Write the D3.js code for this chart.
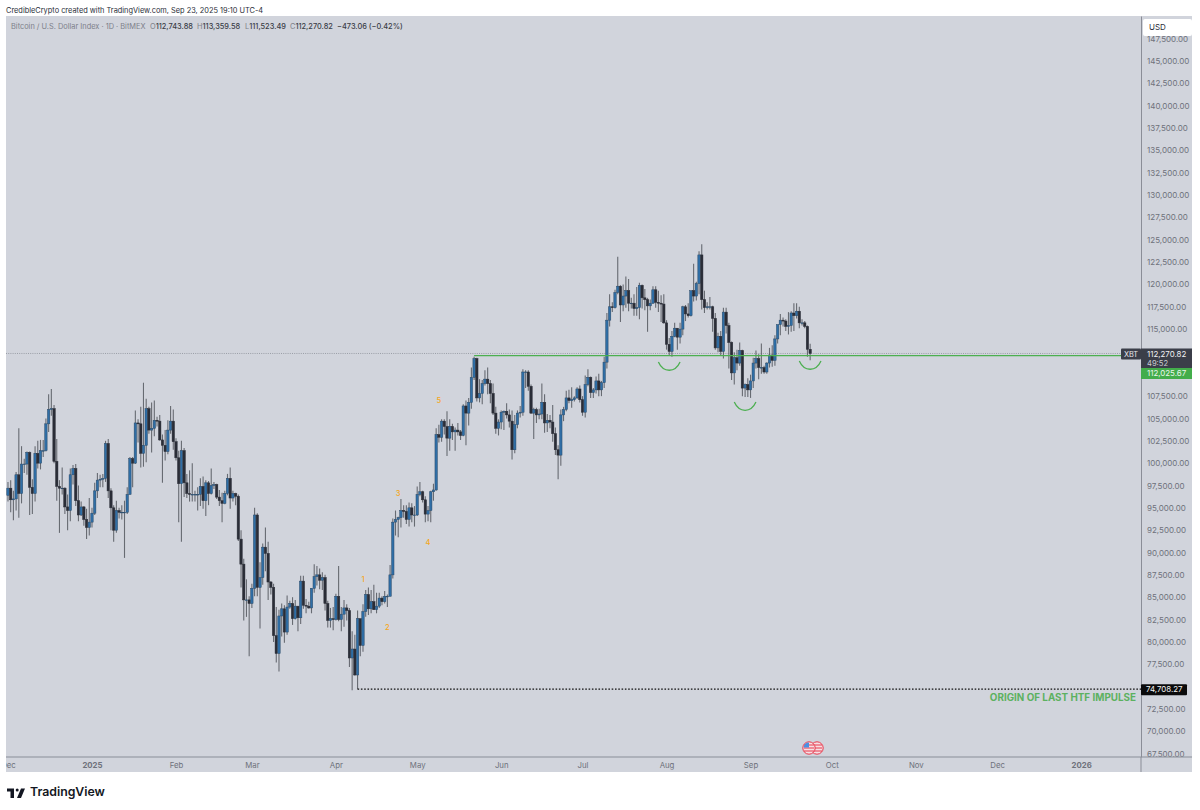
<!DOCTYPE html>
<html>
<head>
<meta charset="utf-8">
<script src="https://cdn.jsdelivr.net/npm/d3@7"></script>
<style>
  body { margin: 0; background: #fff; }
  svg { display: block; font-family: Inter, "Open Sans", sans-serif; }
</style>
</head>
<body>
<div id="chart"></div>
<script>
// Daily candles, first one is 2024-12-01
const firstDay = "2024-12-01";
const opens = [
  96400,97200,95900,96000,98700,96600,99900,99900,101200,97300,96600,101100,100000,101400,101400,104400,106000,106100,100200,97400,97200,97200,95100,94700,98700,99400,95800,94200,95100,93700,92800,
  93400,94400,96900,98100,98200,98300,102200,96900,95000,92500,94700,94500,94500,94500,96500,100500,100000,104500,104400,101100,102000,106100,103700,103900,104800,104700,102600,102000,101300,103700,104700,
  102400,100600,97700,101400,97800,96600,96500,96500,96500,96500,97400,95800,97800,96600,97500,97600,96200,95800,95500,96600,98300,96100,96600,96300,91500,88700,84700,84700,
  84300,86000,94200,86100,87200,90600,89900,86700,86100,80700,78700,82900,83700,81100,83900,84300,82600,84000,82700,86800,84100,84000,83800,86000,87300,87500,86900,87200,84300,82400,82600,
  82500,85100,82500,83100,83800,83500,78200,79200,76300,82600,79600,83400,85300,83700,84500,83600,84000,84900,84500,85100,85100,87500,93400,93700,93900,94700,94600,93700,95000,94200,
  94200,96500,96800,95900,94300,94700,96800,97000,103200,102900,104700,104100,102800,104100,103500,103700,103500,103100,106400,105600,106800,109600,111700,107300,107800,108900,109400,108900,107800,105600,103900,
  104600,105700,105800,105400,104700,101500,104300,105600,105700,110200,110200,108600,105600,106000,105400,105500,106800,104500,104800,104600,103300,101500,100900,105400,106000,107300,107000,107100,107300,108300,
  107100,105700,108800,109600,107900,108200,109200,108200,109000,111300,116000,117500,117400,119100,119800,117700,118700,119300,117900,117900,117300,117400,119900,118500,118300,117600,117900,119400,118000,117900,117800,
  115700,113300,112500,114200,115100,114100,115000,117500,116700,116500,119300,118700,120100,123300,118300,117400,117500,117500,116200,112900,114200,112500,116900,115400,113500,110100,111800,111200,112600,108400,108800,
  108200,109200,111200,111700,110700,110700,110200,111200,112100,111500,113900,115500,116000,115900,115300,115400,116800,116500,117000,115700,115700,115300,112743.88
];
const highs = [
  97900,98100,96900,99000,103900,101900,100500,101300,101300,98200,101900,102500,102600,102600,105000,107700,108300,106500,102700,98100,99500,97300,96500,99400,99800,99900,97500,95700,95200,94900,96100,
  95000,97800,98900,98700,98800,102500,102700,97200,95300,95800,95000,95300,95800,97300,100700,100700,105900,104900,106300,109000,107200,106300,106800,107000,105200,105400,103200,103700,104800,106400,106000,
  102800,101400,102500,101700,98800,99200,100000,96900,97300,98300,98500,98100,98000,99400,97900,97700,97000,96700,96900,98800,99500,96900,96700,96500,92500,89300,87000,85100,
  86500,95000,94400,88900,91000,92800,91200,86800,86500,83900,83600,84300,84100,85200,84600,85000,84700,84000,87400,87400,84800,84500,86000,88700,88500,88200,87800,87500,84600,83800,83900,
  85400,88500,83900,84700,84200,83800,81200,80800,83500,82600,84200,85800,86100,85800,86400,85500,85500,85100,85700,85300,88600,93800,94700,94000,96000,95300,95300,95600,95500,95200,
  97400,97900,96900,96300,95200,96900,97700,103900,104300,104900,104900,105800,104900,104400,104000,104500,103700,106600,107000,107300,110700,111900,111800,109400,109300,110400,110700,109300,108900,106300,104900,
  105900,105900,106700,106000,105900,105400,105900,106400,110500,110400,110400,108800,106200,106200,106100,108900,107700,105500,105400,106500,104000,102000,106000,106300,108100,108200,108500,107500,108500,108700,
  107500,109800,110500,109700,108400,109700,110000,109200,111900,116800,118900,118000,119400,123100,119900,120000,120900,120600,118500,118900,119700,120200,120000,119500,118500,118300,119800,119800,119300,118800,118900,
  116000,114000,114800,115700,115100,115700,117600,117700,117900,119300,122300,120300,123700,124500,119300,118000,118600,117600,116800,114600,114800,117400,117400,115700,113600,112400,112700,113500,112700,108900,109500,
  109900,111800,112600,112200,113400,110900,111300,112900,113200,114300,115500,116700,116300,116100,116900,117000,117900,117900,117500,116100,115900,115400,113359.58
];
const lows = [
  95700,94500,93600,94700,93900,95500,98900,98700,94200,94300,95700,99400,99300,100700,101300,103500,105300,100000,95800,92200,96500,94300,92500,93500,97600,95200,93500,94100,93000,91500,91900,
  92800,94200,96100,97300,97300,97900,96100,92500,91200,92200,93800,93700,89400,94300,96500,97300,99900,102300,99500,99600,100100,103300,101200,103000,104100,102500,97800,100300,101000,103300,101500,
  100300,93400,91200,96200,96100,95700,95700,95700,94700,95200,94900,94100,95300,96500,97100,96000,95200,93400,95400,96400,94900,95700,95300,91300,86100,82400,82800,78400,
  83800,85100,85100,81500,86400,87900,84700,85300,80000,77700,76700,80600,79900,80800,83700,81900,82500,81200,82000,83700,83200,83700,83200,85500,86300,85900,85800,83500,81600,81600,81300,
  82400,82300,81200,81700,82400,77200,74600,76200,74700,78400,78900,82800,83000,83200,83600,83200,83800,84100,84300,83900,85100,87100,91900,91700,92800,93900,93200,92900,93400,92900,
  94100,96300,95600,93400,93500,93400,95800,96900,102300,102400,103200,100800,101400,102600,101400,103100,102600,103000,102000,104200,106100,109300,106900,106800,106600,108700,107700,106700,105400,103300,103100,
  103800,103700,105000,104000,100400,101100,103900,105100,105300,108400,108100,105500,102700,104500,104900,104900,103400,103500,103900,102400,100900,98200,99700,104700,105800,106700,106200,106900,107200,106800,
  105300,105100,108600,107300,107300,107800,107500,107500,108400,110600,115300,116900,117300,118900,115800,117000,117400,117000,117300,116500,116500,116100,117300,117100,114700,117100,117800,117400,116900,115800,115600,
  112700,112000,111900,114100,112700,113400,114300,115900,116300,116400,118100,118200,118900,117200,116800,117200,117200,114700,112700,112400,112000,111700,114500,110600,109300,108800,110400,110900,107500,107400,107400,
  107300,108400,110600,109400,110000,110000,110000,110700,110800,110900,113400,114300,115300,114800,114400,114700,114800,116200,115100,115400,115100,111900,111523.49
];
const closes = [
  97200,95900,96000,98700,96600,99900,99900,101200,97300,96600,101100,100000,101400,101400,104400,106000,106100,100200,97400,97200,97200,95100,94700,98700,99400,95800,94200,95100,93700,92800,93400,
  94400,96900,98100,98200,98300,102200,96900,95000,92500,94700,94500,94500,94500,96500,100500,100000,104500,104400,101100,102000,106100,103700,103900,104800,104700,102600,102000,101300,103700,104700,102400,
  100600,97700,101400,97800,96600,96500,96500,96500,96500,97400,95800,97800,96600,97500,97600,96200,95800,95500,96600,98300,96100,96600,96300,91500,88700,84700,84700,84300,
  86000,94200,86100,87200,90600,89900,86700,86100,80700,78700,82900,83700,81100,83900,84300,82600,84000,82700,86800,84100,84000,83800,86000,87300,87500,86900,87200,84300,82400,82600,82500,
  85100,82500,83100,83800,83500,78200,79200,76300,82600,79600,83400,85300,83700,84500,83600,84000,84900,84500,85100,85100,87500,93400,93700,93900,94700,94600,93700,95000,94200,94200,
  96500,96800,95900,94300,94700,96800,97000,103200,102900,104700,104100,102800,104100,103500,103700,103500,103100,106400,105600,106800,109600,111700,107300,107800,108900,109400,108900,107800,105600,103900,104600,
  105700,105800,105400,104700,101500,104300,105600,105700,110200,110200,108600,105600,106000,105400,105500,106800,104500,104800,104600,103300,101500,100900,105400,106000,107300,107000,107100,107300,108300,107100,
  105700,108800,109600,107900,108200,109200,108200,109000,111300,116000,117500,117400,119100,119800,117700,118700,119300,117900,117900,117300,117400,119900,118500,118300,117600,117900,119400,118000,117900,117800,115700,
  113300,112500,114200,115100,114100,115000,117500,116700,116500,119300,118700,120100,123300,118300,117400,117500,117500,116200,112900,114200,112500,116900,115400,113500,110100,111800,111200,112600,108400,108800,108200,
  109200,111200,111700,110700,110700,110200,111200,112100,111500,113900,115500,116000,115900,115300,115400,116800,116500,117000,115700,115700,115300,112743.88,112270.82
];

// 112,500 / 110,000 / 75,000 sit behind the price tags
const priceTicks = [147500,145000,142500,140000,137500,135000,132500,130000,127500,125000,122500,120000,117500,115000,107500,105000,102500,100000,97500,95000,92500,90000,87500,85000,82500,80000,77500,72500,70000,67500];
const timeTicks = ["2024-12-01","2025-01-01","2025-02-01","2025-03-01","2025-04-01","2025-05-01","2025-06-01","2025-07-01","2025-08-01","2025-09-01","2025-10-01","2025-11-01","2025-12-01","2026-01-01"];
const timeLabels = ["Dec","2025","Feb","Mar","Apr","May","Jun","Jul","Aug","Sep","Oct","Nov","Dec","2026"];

const lastPrice = 112270.82;
const supportPrice = 112025.67;
const supportStart = "2025-05-22";
const originPrice = 74708.27;
const originStart = "2025-04-09";

// wave count and the three "bottom" arcs: date + price
const waveLabels = ["1","2","3","4","5"];
const waveDates = ["2025-04-11","2025-04-20","2025-04-24","2025-05-05","2025-05-09"];
const wavePrices = [87040,81670,96660,91180,107070];
const arcDates = [["2025-07-29","2025-08-06"],["2025-08-26","2025-09-03"],["2025-09-19","2025-09-27"]];
const arcPrices = [111320,106840,111430];

const W = 1200, H = 810;
const plot = { left: 6, right: 1141, top: 16, bottom: 757 };
const panelRight = 1192, panelBottom = 772;

const day = s => new Date(s + "T00:00:00Z");

const svg = d3.select("#chart").append("svg")
    .attr("width", W)
    .attr("height", H)
    .attr("viewBox", `0 0 ${W} ${H}`);

// Scales
const x = d3.scaleUtc()
    .domain([new Date("2024-11-30T06:30:00Z"), new Date("2026-01-23T02:00:00Z")])
    .range([plot.left, plot.right]);
const y = d3.scaleLinear()
    .domain([150035, 67120])
    .range([plot.top, plot.bottom]);

const candles = closes.map((c, i) => ({
    date: d3.utcDay.offset(day(firstDay), i),
    open: opens[i], high: highs[i], low: lows[i], close: c
}));

// Panel
svg.append("rect")
    .attr("x", plot.left)
    .attr("y", plot.top)
    .attr("width", panelRight - plot.left)
    .attr("height", panelBottom - plot.top)
    .attr("fill", "#d1d4dc");

const defs = svg.append("defs");
defs.append("clipPath").attr("id", "clip-plot").append("rect")
    .attr("x", plot.left).attr("y", plot.top)
    .attr("width", plot.right - plot.left).attr("height", plot.bottom - plot.top);
defs.append("clipPath").attr("id", "clip-time").append("rect")
    .attr("x", plot.left).attr("y", plot.bottom)
    .attr("width", plot.right - plot.left).attr("height", panelBottom - plot.bottom);
defs.append("clipPath").attr("id", "clip-price").append("rect")
    .attr("x", plot.right).attr("y", plot.top)
    .attr("width", panelRight - plot.right).attr("height", plot.bottom - plot.top);

// Header text
svg.append("text")
    .attr("x", 6).attr("y", 12.5)
    .style("font-size", "7.4px")
    .attr("fill", "#2a2e39")
    .text("CredibleCrypto created with TradingView.com, Sep 23, 2025 19:10 UTC-4");

svg.append("text")
    .attr("x", 11).attr("y", 29)
    .style("font-size", "7.4px")
    .attr("fill", "#7d808a")
    .text("Bitcoin / U.S. Dollar Index · 1D · BitMEX");

const ohlcText = [["O", "112,743.88", 150], ["H", "113,359.58", 197], ["L", "111,523.49", 245], ["C", "112,270.82", 290]];
ohlcText.forEach(([k, v, px]) => {
    const t = svg.append("text").attr("x", px).attr("y", 29).style("font-size", "7.4px");
    t.append("tspan").attr("fill", "#7d808a").text(k);
    t.append("tspan").attr("fill", "#3a3d47").style("font-weight", 500).text(v);
});
svg.append("text")
    .attr("x", 337).attr("y", 29)
    .style("font-size", "7.4px").style("font-weight", 500)
    .attr("fill", "#3a3d47")
    .text("−473.06 (−0.42%)");

// Last price dotted line
const plotG = svg.append("g").attr("clip-path", "url(#clip-plot)");
plotG.append("line")
    .attr("x1", plot.left).attr("x2", plot.right)
    .attr("y1", y(lastPrice)).attr("y2", y(lastPrice))
    .attr("stroke", "#8d9099")
    .attr("stroke-width", 0.8)
    .attr("stroke-dasharray", "1 1.2");

// Candles
const candleG = plotG.selectAll("g.candle")
    .data(candles)
    .join("g")
    .attr("class", "candle");

candleG.append("line")
    .attr("x1", d => x(d.date)).attr("x2", d => x(d.date))
    .attr("y1", d => y(d.high)).attr("y2", d => y(d.low))
    .attr("stroke", "#55585f")
    .attr("stroke-opacity", 0.85)
    .attr("stroke-width", 1.1);

candleG.append("rect")
    .attr("x", d => x(d.date) - 1.2)
    .attr("width", 2.4)
    .attr("y", d => y(Math.max(d.open, d.close)))
    .attr("height", d => Math.max(0.6, Math.abs(y(d.open) - y(d.close))))
    .attr("fill", d => d.close >= d.open ? "#2f6ea6" : "#2a2d37")
    .attr("stroke", d => d.close >= d.open ? "#2b4a68" : "#2a2d37")
    .attr("stroke-width", 0.5);

// Support line
plotG.append("line")
    .attr("x1", x(day(supportStart))).attr("x2", plot.right)
    .attr("y1", y(supportPrice)).attr("y2", y(supportPrice))
    .attr("stroke", "#4caf50")
    .attr("stroke-width", 1.2);

// Origin dotted line
plotG.append("line")
    .attr("x1", x(day(originStart))).attr("x2", plot.right)
    .attr("y1", y(originPrice)).attr("y2", y(originPrice))
    .attr("stroke", "#111")
    .attr("stroke-width", 1.2)
    .attr("stroke-dasharray", "1.6 1.7");

// Arcs under the lows
plotG.selectAll("path.arc")
    .data(arcDates)
    .join("path")
    .attr("class", "arc")
    .attr("fill", "none")
    .attr("stroke", "#4caf50")
    .attr("stroke-width", 1.3)
    .attr("d", (d, i) => {
        const x0 = x(day(d[0])), x1 = x(day(d[1])), yy = y(arcPrices[i]);
        return `M${x0},${yy} C${x0 + 5},${yy + 11} ${x1 - 5},${yy + 11} ${x1},${yy}`;
    });

// Wave count
plotG.selectAll("text.wave")
    .data(waveLabels)
    .join("text")
    .attr("class", "wave")
    .attr("x", (d, i) => x(day(waveDates[i])))
    .attr("y", (d, i) => y(wavePrices[i]))
    .attr("dy", "0.35em")
    .attr("text-anchor", "middle")
    .attr("fill", "#f5a623")
    .style("font-size", "7.5px")
    .style("font-weight", 500)
    .text(d => d);

plotG.append("text")
    .attr("x", plot.right - 5)
    .attr("y", y(originPrice) + 12)
    .attr("text-anchor", "end")
    .attr("fill", "#5cb160")
    .style("font-size", "9.85px")
    .style("font-weight", 700)
    .text("ORIGIN OF LAST HTF IMPULSE");

// Earnings style flags on the time axis
const flagX = [809, 817];
const flagG = svg.selectAll("g.flag")
    .data(flagX.slice().reverse())
    .join("g")
    .attr("class", "flag")
    .attr("transform", d => `translate(${d},748)`);
flagG.append("circle").attr("r", 6.2).attr("fill", "#f6dfe3").attr("stroke", "#e8394d").attr("stroke-width", 1);
flagG.selectAll("line")
    .data([-3, 0, 3])
    .join("line")
    .attr("x1", -5).attr("x2", 5)
    .attr("y1", d => d).attr("y2", d => d)
    .attr("stroke", "#e8394d")
    .attr("stroke-width", 1);
svg.append("path")
    .attr("d", "M803.6,747.5 A5.6,5.6 0 0 1 809,742.6 L809,747.5 Z")
    .attr("fill", "#4a90e2");

// X Axis
const xAxis = svg.append("g")
    .attr("clip-path", "url(#clip-time)");
xAxis.append("g")
    .attr("transform", `translate(0,${plot.bottom})`)
    .call(d3.axisBottom(x)
        .tickValues(timeTicks.map(day))
        .tickSize(0)
        .tickPadding(5)
        .tickFormat((d, i) => timeLabels[i]))
    .call(g => g.select(".domain").attr("stroke", "none"))
    .selectAll("text")
    .attr("fill", "#6e717b")
    .style("font-family", "Inter, sans-serif")
    .style("font-size", "7.8px")
    .style("font-weight", d => d.getUTCMonth() === 0 ? 700 : 400);

// Y Axis
const yAxis = svg.append("g")
    .attr("transform", `translate(${plot.right},0)`)
    .attr("clip-path", "url(#clip-price-local)")
    .call(d3.axisRight(y)
        .tickValues(priceTicks)
        .tickSize(0)
        .tickPadding(6)
        .tickFormat(d3.format(",.2f")))
    .call(g => g.select(".domain").attr("stroke", "#8a8d97").attr("stroke-width", 1));
yAxis.attr("clip-path", null);
yAxis.selectAll("text")
    .attr("fill", "#6e717b")
    .style("font-family", "Inter, sans-serif")
    .style("font-size", "8px");

// Time axis band sits over the last price label, so the 67,500 tick is cut as in TradingView
svg.append("rect")
    .attr("x", plot.right + 0.5).attr("y", plot.bottom)
    .attr("width", panelRight - plot.right - 0.5).attr("height", panelBottom - plot.bottom)
    .attr("fill", "#d1d4dc");
svg.append("line")
    .attr("x1", plot.right).attr("x2", plot.right)
    .attr("y1", plot.bottom).attr("y2", panelBottom)
    .attr("stroke", "#8a8d97");
svg.append("line")
    .attr("x1", plot.left).attr("x2", panelRight)
    .attr("y1", plot.bottom).attr("y2", plot.bottom)
    .attr("stroke", "#8a8d97").attr("stroke-width", 1.2);

// USD button
svg.append("rect")
    .attr("x", 1143).attr("y", 19)
    .attr("width", 49).attr("height", 17)
    .attr("rx", 2)
    .attr("fill", "#fff");
svg.append("text")
    .attr("x", 1149).attr("y", 30)
    .attr("fill", "#2a2e39")
    .style("font-size", "8px")
    .text("USD");

// Price tags
const tagTextSize = "7.9px";
svg.append("rect").attr("x", 1121).attr("y", y(lastPrice) - 5).attr("width", 20).attr("height", 11).attr("rx", 1).attr("fill", "#3b3e49");
svg.append("text").attr("x", 1131).attr("y", y(lastPrice) + 3.2).attr("text-anchor", "middle")
    .attr("fill", "#e6e7ea").style("font-size", "7.4px").text("XBT");
svg.append("rect").attr("x", plot.right).attr("y", y(lastPrice) - 5).attr("width", 51).attr("height", 20).attr("fill", "#3b3e49");
svg.append("text").attr("x", 1147).attr("y", y(lastPrice) + 3.2)
    .attr("fill", "#f0f1f3").style("font-size", tagTextSize).text(d3.format(",.2f")(lastPrice));
svg.append("text").attr("x", 1147).attr("y", y(lastPrice) + 12.2)
    .attr("fill", "#c9cbd2").style("font-size", "7.6px").text("49:52");
svg.append("rect").attr("x", plot.right).attr("y", 368).attr("width", 51).attr("height", 11).attr("fill", "#43ad4b");
svg.append("text").attr("x", 1147).attr("y", 376.4)
    .attr("fill", "#eaf6eb").style("font-size", tagTextSize).text(d3.format(",.2f")(supportPrice));
svg.append("rect").attr("x", plot.right).attr("y", y(originPrice) - 5).attr("width", 46).attr("height", 11).attr("rx", 1).attr("fill", "#0b0b0c");
svg.append("text").attr("x", 1146).attr("y", y(originPrice) + 3.2)
    .attr("fill", "#f5f5f5").style("font-size", tagTextSize).text(d3.format(",.2f")(originPrice));

// TradingView logo
svg.append("path")
    .attr("transform", "translate(7,785.5) scale(0.5)")
    .attr("d", "M14 6H0v6h7v13h7zM28 25h-8l8-19h8z")
    .attr("fill", "#131722");
svg.append("circle").attr("cx", 17.2).attr("cy", 790).attr("r", 1.5).attr("fill", "#131722");
svg.append("text")
    .attr("x", 30).attr("y", 796)
    .attr("fill", "#131722")
    .style("font-size", "12.3px")
    .style("font-weight", 600)
    .text("TradingView");
</script>
</body>
</html>
